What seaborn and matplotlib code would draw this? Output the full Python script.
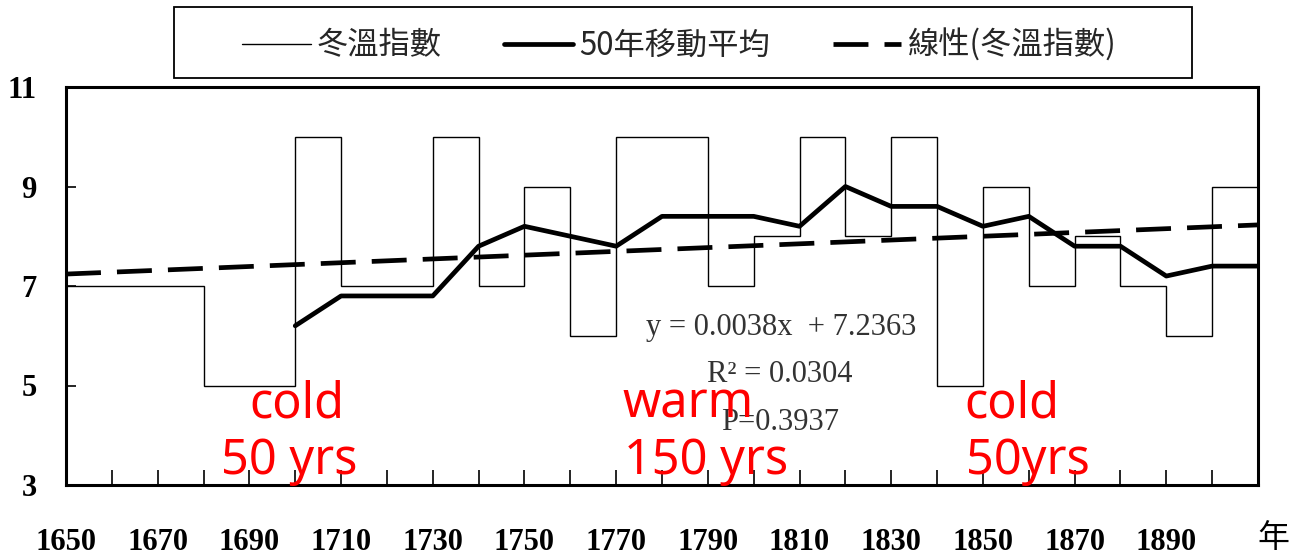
import numpy as np
import pandas as pd
import seaborn as sns
import matplotlib
matplotlib.use("Agg")
import matplotlib.pyplot as plt
from matplotlib.patches import Rectangle

# Winter temperature index, one value per decade (1650s ... 1900s)
decade_edges = list(range(1650, 1911, 10))
winter_index = [7, 7, 7, 5, 5, 10, 7, 7, 10, 7, 9, 6, 10, 10,
                7, 8, 10, 8, 10, 5, 9, 7, 8, 7, 6, 9]

# 50-year moving average, at the end of each decade from 1700 on
ma_years = list(range(1700, 1911, 10))
ma_values = [6.2, 6.8, 6.8, 6.8, 7.8, 8.2, 8.0, 7.8, 8.4, 8.4, 8.4,
             8.2, 9.0, 8.6, 8.6, 8.2, 8.4, 7.8, 7.8, 7.2, 7.4, 7.4]

# Linear trend of the annual index (x = year number, 1 = 1650)
trend_slope = 0.0038
trend_intercept = 7.2363
trend_r2 = 0.0304
trend_p = 0.3937

x_tick_labels = list(range(1650, 1891, 20))
y_ticks = [3, 5, 7, 9, 11]

series_labels = ["冬溫指數", "50年移動平均", "線性(冬溫指數)"]

sns.set_theme(style="white")
plt.rcParams["font.family"] = ["Noto Sans CJK TC", "DejaVu Sans"]
plt.rcParams["axes.unicode_minus"] = False

W, H = 1294, 556
fig = plt.figure(figsize=(W / 100, H / 100), dpi=100)
fig.patch.set_facecolor("white")
ax = fig.add_axes([66 / W, 1 - 485 / H, (1258 - 66) / W, (485 - 87) / H])
ax.set_facecolor("white")

# thin stepped index line
ax.stairs(winter_index, decade_edges, color="black", lw=1.0,
          baseline=None, fill=False, label=series_labels[0])

# thick moving-average line
sns.lineplot(x=ma_years, y=ma_values, ax=ax, color="black", lw=3.4,
             label=series_labels[1])

# dashed linear trend from the fitted equation
trend_x = np.array([decade_edges[0], decade_edges[-1]], dtype=float)
trend_y = trend_slope * (trend_x - (decade_edges[0] - 1)) + trend_intercept
sns.lineplot(x=trend_x, y=trend_y, ax=ax, color="black", lw=3.4,
             linestyle=(0, (7.4, 3.4)), label=series_labels[2])

ax.set_xlim(decade_edges[0], decade_edges[-1])
ax.set_ylim(y_ticks[0], y_ticks[-1])
ax.set_xlabel("")
ax.set_ylabel("")

ax.set_xticks(decade_edges)
ax.set_xticklabels([str(y) if y in x_tick_labels else "" for y in decade_edges])
ax.set_yticks(y_ticks)
ax.set_yticklabels([str(v) for v in y_ticks])

tick_font = dict(family="Liberation Serif", weight="bold", size=22)
for lab in ax.get_xticklabels() + ax.get_yticklabels():
    lab.set_fontfamily(tick_font["family"])
    lab.set_fontweight(tick_font["weight"])
    lab.set_fontsize(tick_font["size"])
    lab.set_color("black")

ax.tick_params(axis="x", direction="in", length=11, width=1.2,
               color="black", pad=31, bottom=True)
ax.tick_params(axis="y", direction="in", length=7, width=1.2,
               color="black", pad=21, left=True)

for sp in ax.spines.values():
    sp.set_visible(True)
    sp.set_color("black")
    sp.set_linewidth(2.2)

# legend across the top inside its own box
handles, labels = ax.get_legend_handles_labels()
order = [labels.index(l) for l in series_labels]
if ax.get_legend() is not None:
    ax.get_legend().remove()
fig.legend([handles[i] for i in order], [labels[i] for i in order],
           loc="center", bbox_to_anchor=(679 / W, 1 - 45 / H),
           ncol=3, frameon=False, handlelength=2.2,
           handletextpad=0.2, columnspacing=2.0, borderpad=0.0,
           prop={"family": ["Noto Sans CJK TC", "DejaVu Sans"], "size": 22.5})
fig.patches.append(Rectangle((174 / W, 1 - 78 / H), (1192 - 174) / W, 71 / H,
                             transform=fig.transFigure, fill=False,
                             edgecolor="black", lw=1.3, zorder=5))

# axis unit
fig.text(1273 / W, 1 - 538 / H, "年", ha="center", va="center",
         fontsize=23, family=["Noto Sans CJK TC", "DejaVu Sans"], color="black")

# regression statistics
eq_style = dict(ha="center", va="center", fontsize=22, color="#333333",
                family="Liberation Serif")
fig.text(781 / W, 1 - 328 / H,
         f"y = {trend_slope:.4f}x  + {trend_intercept:.4f}", **eq_style)
fig.text(780 / W, 1 - 375 / H, f"R² = {trend_r2:.4f}", **eq_style)
fig.text(780 / W, 1 - 422 / H, f"P={trend_p:.4f}", **eq_style)

# period annotations
red = dict(color="#ff0000", fontsize=35, family="Noto Sans", va="baseline")
fig.text(297 / W, 1 - 418 / H, "cold", ha="center", **red)
fig.text(289 / W, 1 - 474 / H, "50 yrs", ha="center", **red)
fig.text(622 / W, 1 - 418 / H, "warm", ha="left", **red)
fig.text(624 / W, 1 - 474 / H, "150 yrs", ha="left", **red)
fig.text(964 / W, 1 - 418 / H, "cold", ha="left", **red)
fig.text(966 / W, 1 - 474 / H, "50yrs", ha="left", **red)

fig.savefig("out.png", dpi=100, facecolor="white")
